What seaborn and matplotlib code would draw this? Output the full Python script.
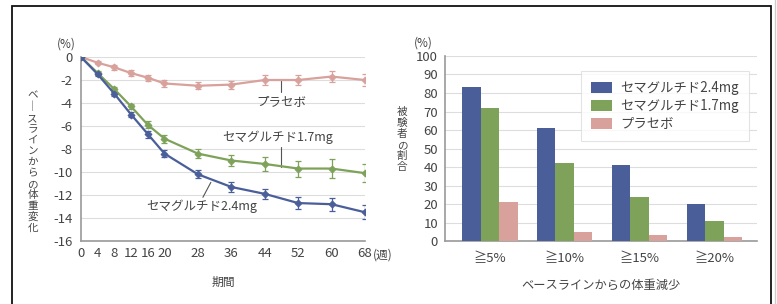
import matplotlib
matplotlib.use("Agg")
import matplotlib.pyplot as plt
import matplotlib.patches as mpatches
import pandas as pd
import seaborn as sns

sns.set_theme(style="white")
plt.rcParams["font.family"] = ["Noto Sans CJK JP", "DejaVu Sans"]

# 左: 体重変化の推移
weeks = [0, 4, 8, 12, 16, 20, 28, 36, 44, 52, 60, 68]
week_labels = ["0", "4", "8", "12", "16", "20", "28", "36", "44", "52", "60", "68"]
placebo = [0, -0.5, -0.9, -1.4, -1.8, -2.3, -2.5, -2.4, -2.0, -2.0, -1.7, -2.0]
placebo_err = [0, 0.15, 0.2, 0.25, 0.25, 0.3, 0.3, 0.35, 0.45, 0.45, 0.5, 0.5]
sema17 = [0, -1.4, -2.8, -4.3, -5.9, -7.1, -8.4, -9.0, -9.3, -9.7, -9.7, -10.1]
sema17_err = [0, 0.15, 0.2, 0.25, 0.3, 0.35, 0.4, 0.5, 0.6, 0.7, 0.8, 0.8]
sema24 = [0, -1.5, -3.2, -5.0, -6.7, -8.4, -10.2, -11.3, -11.9, -12.7, -12.8, -13.5]
sema24_err = [0, 0.15, 0.2, 0.25, 0.3, 0.3, 0.35, 0.4, 0.45, 0.5, 0.55, 0.6]

# 右: 体重減少の達成割合
thresholds = ["≧5%", "≧10%", "≧15%", "≧20%"]
groups = ["セマグルチド2.4mg", "セマグルチド1.7mg", "プラセボ"]
pct_24 = [83, 61, 41, 20]
pct_17 = [72, 42, 24, 11]
pct_pl = [21, 5, 3, 2]

BLUE = "#4a5e9a"
GREEN = "#7ea25a"
PINK = "#d9a19c"
TXT = "#444444"
GRID = "#dddddd"
SPINE = "#999999"

fig = plt.figure(figsize=(7.77, 3.04), dpi=100)
fig.patch.set_facecolor("white")

ax1 = fig.add_axes([0.1042, 0.2072, 0.3655, 0.6053])
ax2 = fig.add_axes([0.5727, 0.2072, 0.4015, 0.6086])

# 枠線
fig.add_artist(mpatches.Rectangle((12 / 777, -0.05), (771 - 12) / 777, 1 - 6 / 304 + 0.05,
                                  transform=fig.transFigure, fill=False, lw=1.3, ec="#111111"))
fig.add_artist(plt.Line2D([775 / 777, 775 / 777], [0, 1], transform=fig.transFigure,
                          color="#cccccc", lw=1))

# ---- 左パネル ----
series = [(placebo, placebo_err, PINK), (sema17, sema17_err, GREEN), (sema24, sema24_err, BLUE)]
for vals, errs, col in series:
    df = pd.DataFrame({"week": weeks, "value": vals})
    sns.lineplot(data=df, x="week", y="value", color=col, lw=1.6, marker="D", markersize=3.5,
                 markeredgecolor=col, ax=ax1, zorder=3)
    ax1.errorbar(weeks[1:], vals[1:], yerr=errs[1:], fmt="none", ecolor=col, elinewidth=0.9,
                 capsize=2.5, capthick=0.9, zorder=2)

ax1.set_xlim(0, 68)
ax1.set_ylim(-16, 0)
ax1.set_yticks(range(-16, 1, 2))
ax1.set_yticklabels([str(v) for v in range(-16, 1, 2)])
ax1.set_xticks(weeks)
ax1.set_xticklabels(week_labels)
ax1.set_xticks(range(0, 69, 4), minor=True)
ax1.tick_params(axis="x", which="both", direction="in", length=3, color=SPINE, labelsize=9.5,
                labelcolor=TXT, pad=4)
ax1.tick_params(axis="y", length=0, labelsize=9.5, labelcolor=TXT, pad=6)
ax1.grid(axis="y", color=GRID, lw=0.8)
for s in ["top", "right"]:
    ax1.spines[s].set_visible(False)
for s in ["left", "bottom"]:
    ax1.spines[s].set_color(SPINE)
    ax1.spines[s].set_linewidth(1.2)
ax1.set_xlabel("期間", fontsize=8.5, color=TXT, labelpad=12)
ax1.set_ylabel("")
ax1.text(-0.02, 1.07, "(%)", transform=ax1.transAxes, ha="right", va="center", fontsize=8.5,
         color=TXT)
ax1.text(1.027, -0.075, "(週)", transform=ax1.transAxes, ha="left", va="center", fontsize=8.5,
         color=TXT)
label1 = "ベースラインからの体重変化".replace("ー", "｜")
ax1.text(-0.17, 0.43, "\n".join(label1), transform=ax1.transAxes, ha="center", va="center",
         fontsize=7.6, color=TXT, linespacing=1.12)

ax1.plot([48, 48], [-2.0, -3.05], color="#555555", lw=0.8)
ax1.text(47.9, -3.9, "プラセボ", ha="center", va="center", fontsize=9, color=TXT)
ax1.plot([48, 48], [-7.8, -9.6], color="#555555", lw=0.8)
ax1.text(47, -7.0, "セマグルチド1.7mg", ha="center", va="center", fontsize=9, color=TXT)
ax1.plot([31.1, 29.2], [-10.9, -12.2], color="#555555", lw=0.8)
ax1.text(29, -13.0, "セマグルチド2.4mg", ha="center", va="center", fontsize=9, color=TXT)

# ---- 右パネル ----
bar_df = pd.DataFrame({
    "threshold": thresholds * 3,
    "group": [groups[0]] * 4 + [groups[1]] * 4 + [groups[2]] * 4,
    "pct": pct_24 + pct_17 + pct_pl,
})
sns.barplot(data=bar_df, x="threshold", y="pct", hue="group", hue_order=groups,
            palette=[BLUE, GREEN, PINK], width=0.74, linewidth=0, saturation=1, ax=ax2,
            zorder=3)
ax2.set_xlim(-0.6, 3.57)
ax2.set_ylim(0, 100)
ax2.set_yticks(range(0, 101, 10))
ax2.tick_params(axis="y", length=0, labelsize=9.5, labelcolor=TXT, pad=5)
ax2.tick_params(axis="x", length=0, labelsize=9.5, labelcolor=TXT, pad=8)
ax2.grid(axis="y", color=GRID, lw=0.8, zorder=0)
for s in ["top", "right"]:
    ax2.spines[s].set_visible(False)
for s in ["left", "bottom"]:
    ax2.spines[s].set_color(SPINE)
    ax2.spines[s].set_linewidth(1.2)
ax2.set_xlabel("ベースラインからの体重減少", fontsize=8.8, color=TXT, labelpad=10)
ax2.set_ylabel("")
ax2.text(-0.04, 1.07, "(%)", transform=ax2.transAxes, ha="right", va="center", fontsize=8.5,
         color=TXT)
ax2.text(-0.138, 0.55, "\n".join("被験者の割合"), transform=ax2.transAxes, ha="center",
         va="center", fontsize=7.6, color=TXT, linespacing=1.12)

leg = ax2.legend(loc="upper left", bbox_to_anchor=(0.415, 0.955), frameon=True, fontsize=9.6,
                 handlelength=1.6, handleheight=0.9, handletextpad=0.6, borderpad=0.75,
                 labelspacing=0.3, fancybox=False, title=None)
leg.get_frame().set_edgecolor("#dddddd")
leg.get_frame().set_linewidth(0.8)
for t in leg.get_texts():
    t.set_color(TXT)

fig.savefig("out.png", dpi=100)
